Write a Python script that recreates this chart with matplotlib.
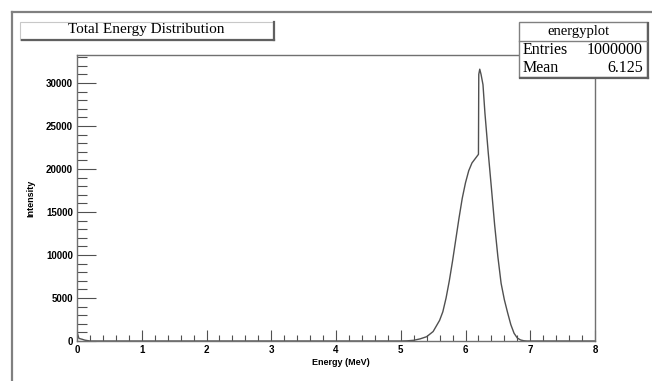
import numpy as np
import matplotlib; matplotlib.use("Agg")
import matplotlib.pyplot as plt
from matplotlib.patches import Rectangle
from matplotlib.lines import Line2D
from matplotlib.ticker import MultipleLocator

# histogram (energy in MeV, counts per bin)
energy = [0.00, 0.005, 0.03, 0.08, 0.12, 0.20, 5.00, 5.10, 5.20, 5.30, 5.40, 5.50,
          5.60, 5.65, 5.70, 5.75, 5.80, 5.85, 5.90, 5.95, 6.00, 6.05, 6.10, 6.15,
          6.20, 6.205, 6.22, 6.24, 6.27, 6.30, 6.35, 6.40, 6.45, 6.50, 6.55, 6.60,
          6.65, 6.70, 6.75, 6.80, 6.85, 6.90, 6.95, 7.00, 8.00]
counts = [0, 900, 300, 200, 100, 0, 0, 20, 80, 250, 500, 1100,
          2400, 3400, 5000, 7000, 9300, 11800, 14300, 16600, 18400, 19800, 20700, 21200,
          21700, 31000, 31600, 31000, 29800, 26500, 22000, 17800, 13500, 9800, 6700, 4800,
          3300, 1900, 900, 350, 120, 30, 0, 0, 0]

title = "Total Energy Distribution"
stats_name = "energyplot"
stats_rows = [("Entries", "1000000"), ("Mean", "6.125")]

W, H = 652, 381
def fx(x): return x / W
def fy(y): return 1 - y / H

fig = plt.figure(figsize=(W / 100, H / 100), dpi=100)
fig.patch.set_facecolor("white")

# canvas frame
fig.add_artist(Line2D([fx(12), fx(12)], [fy(12), 0], color="#808080", lw=1.6))
fig.add_artist(Line2D([fx(12), 1], [fy(12), fy(12)], color="#808080", lw=1.6))

ax = fig.add_axes([fx(77), fy(341), fx(595) - fx(77), fy(55) - fy(341)])
ax.plot(energy, counts, color="#505050", lw=1.0)
ax.set_xlim(0, 8); ax.set_ylim(0, 33250)
ax.xaxis.set_major_locator(MultipleLocator(1)); ax.xaxis.set_minor_locator(MultipleLocator(0.2))
ax.yaxis.set_major_locator(MultipleLocator(5000)); ax.yaxis.set_minor_locator(MultipleLocator(1000))
ax.tick_params(which="both", direction="in", color="#505050", width=0.8, top=False, right=False,
               labelsize=7, pad=3)
ax.tick_params(axis="x", which="major", length=8)
ax.tick_params(axis="x", which="minor", length=4)
ax.tick_params(axis="y", which="major", length=14)
ax.tick_params(axis="y", which="minor", length=7)
for lab in ax.get_xticklabels() + ax.get_yticklabels():
    lab.set_fontweight("bold"); lab.set_family("Liberation Sans")
for s in ax.spines.values():
    s.set_color("#707070"); s.set_linewidth(1.0)
ax.set_xlabel("Energy (MeV)", fontsize=6.5, fontweight="bold", family="Liberation Sans")
ax.set_ylabel("Intensity", fontsize=6.5, fontweight="bold", family="Liberation Sans")
ax.xaxis.set_label_coords(0.51, -0.06)
ax.yaxis.set_label_coords(-0.08, 0.5)

# title pave
fig.add_artist(Rectangle((fx(20), fy(40)), fx(273) - fx(20), fy(22) - fy(40),
                         transform=fig.transFigure, fill=True, fc="white", ec="#c8c8c8", lw=0.8))
fig.add_artist(Line2D([fx(22), fx(274)], [fy(40), fy(40)], color="#606060", lw=1.6))
fig.add_artist(Line2D([fx(274), fx(274)], [fy(40), fy(22)], color="#606060", lw=1.6))
fig.text(fx(146), fy(30), title, family="Liberation Serif", fontsize=11, ha="center", va="center")

# stats box
fig.add_artist(Rectangle((fx(519), fy(77)), fx(647) - fx(519), fy(22) - fy(77),
                         transform=fig.transFigure, fill=True, fc="white", ec="#808080", lw=1.0, zorder=5))
fig.add_artist(Line2D([fx(520), fx(648)], [fy(78), fy(78)], color="#606060", lw=1.6, zorder=6))
fig.add_artist(Line2D([fx(648), fx(648)], [fy(78), fy(23)], color="#606060", lw=1.6, zorder=6))
fig.add_artist(Line2D([fx(519), fx(647)], [fy(41), fy(41)], color="#808080", lw=1.0, zorder=6))
fig.text(fx(578), fy(31.5), stats_name, family="Liberation Serif", fontsize=10.5,
         ha="center", va="center", zorder=7)
for i, (k, v) in enumerate(stats_rows):
    yy = fy(50 + i * 18)
    fig.text(fx(523), yy, k, family="Liberation Serif", fontsize=11.5, ha="left", va="center", zorder=7)
    fig.text(fx(643), yy, v, family="Liberation Serif", fontsize=11.5, ha="right", va="center", zorder=7)

fig.savefig("out.png", dpi=100)
